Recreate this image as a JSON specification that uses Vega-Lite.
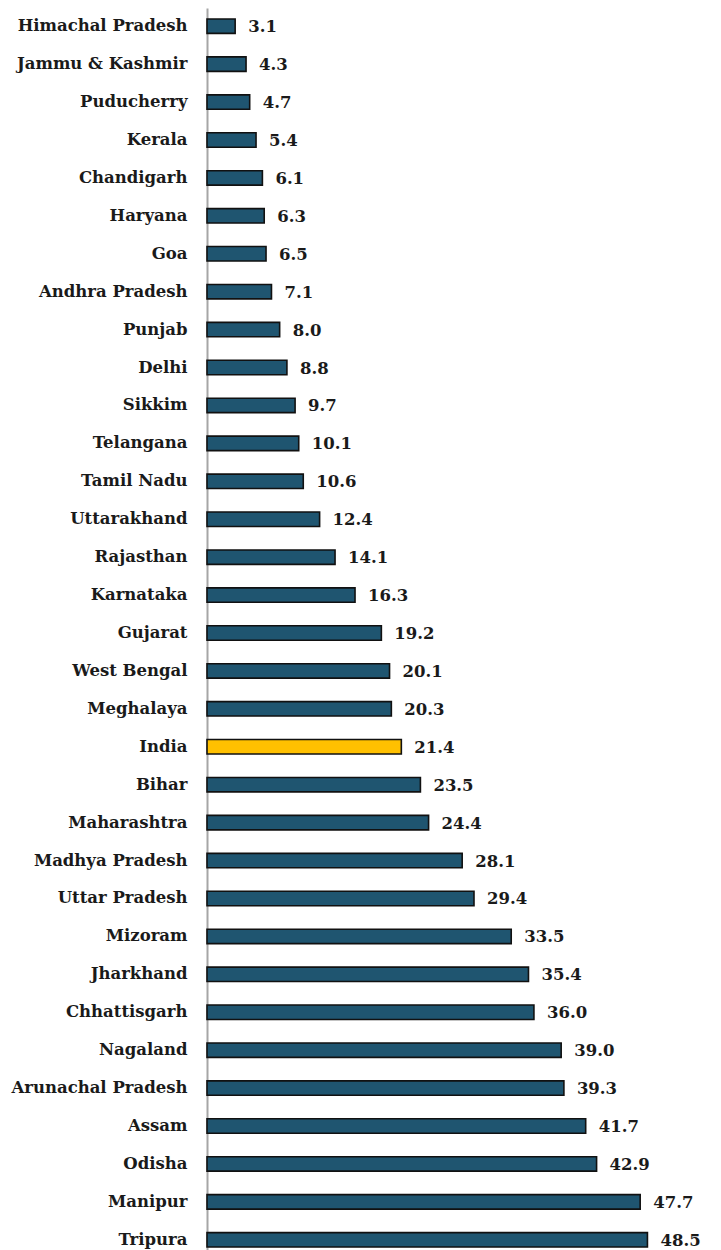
{
  "$schema": "https://vega.github.io/schema/vega-lite/v6.json",
  "autosize": "none",
  "padding": {"left": 207, "top": 8, "right": 0, "bottom": 0},
  "width": 514,
  "height": 1250,
  "background": "white",
  "config": {"view": {"stroke": null}},
  "data": {"values": [
    {"state": "Himachal Pradesh", "value": 3.1, "group": "state"},
    {"state": "Jammu & Kashmir", "value": 4.3, "group": "state"},
    {"state": "Puducherry", "value": 4.7, "group": "state"},
    {"state": "Kerala", "value": 5.4, "group": "state"},
    {"state": "Chandigarh", "value": 6.1, "group": "state"},
    {"state": "Haryana", "value": 6.3, "group": "state"},
    {"state": "Goa", "value": 6.5, "group": "state"},
    {"state": "Andhra Pradesh", "value": 7.1, "group": "state"},
    {"state": "Punjab", "value": 8.0, "group": "state"},
    {"state": "Delhi", "value": 8.8, "group": "state"},
    {"state": "Sikkim", "value": 9.7, "group": "state"},
    {"state": "Telangana", "value": 10.1, "group": "state"},
    {"state": "Tamil Nadu", "value": 10.6, "group": "state"},
    {"state": "Uttarakhand", "value": 12.4, "group": "state"},
    {"state": "Rajasthan", "value": 14.1, "group": "state"},
    {"state": "Karnataka", "value": 16.3, "group": "state"},
    {"state": "Gujarat", "value": 19.2, "group": "state"},
    {"state": "West Bengal", "value": 20.1, "group": "state"},
    {"state": "Meghalaya", "value": 20.3, "group": "state"},
    {"state": "India", "value": 21.4, "group": "india"},
    {"state": "Bihar", "value": 23.5, "group": "state"},
    {"state": "Maharashtra", "value": 24.4, "group": "state"},
    {"state": "Madhya Pradesh", "value": 28.1, "group": "state"},
    {"state": "Uttar Pradesh", "value": 29.4, "group": "state"},
    {"state": "Mizoram", "value": 33.5, "group": "state"},
    {"state": "Jharkhand", "value": 35.4, "group": "state"},
    {"state": "Chhattisgarh", "value": 36.0, "group": "state"},
    {"state": "Nagaland", "value": 39.0, "group": "state"},
    {"state": "Arunachal Pradesh", "value": 39.3, "group": "state"},
    {"state": "Assam", "value": 41.7, "group": "state"},
    {"state": "Odisha", "value": 42.9, "group": "state"},
    {"state": "Manipur", "value": 47.7, "group": "state"},
    {"state": "Tripura", "value": 48.5, "group": "state"}
  ]},
  "encoding": {
    "y": {
      "field": "state", "type": "nominal", "sort": null,
      "scale": {"paddingInner": 0.62, "paddingOuter": 0.29},
      "axis": {
        "title": null, "ticks": false, "domainColor": "#a6a6a6", "domainWidth": 2,
        "labelFont": "DejaVu Serif", "labelFontWeight": "bold", "labelFontSize": 16.5,
        "labelColor": "#1a1a1a", "labelPadding": 20, "labelLimit": 300
      }
    },
    "x": {
      "field": "value", "type": "quantitative",
      "scale": {"domain": [0, 56.6]},
      "axis": null
    }
  },
  "layer": [
    {
      "mark": {"type": "bar", "stroke": "#111111", "strokeWidth": 1.6},
      "encoding": {
        "color": {
          "field": "group", "type": "nominal",
          "scale": {"domain": ["state", "india"], "range": ["#1f5570", "#ffc000"]},
          "legend": null
        }
      }
    },
    {
      "mark": {"type": "text", "align": "left", "baseline": "middle", "dx": 13, "dy": 1,
        "font": "DejaVu Serif", "fontWeight": "bold", "fontSize": 16.5, "color": "#1a1a1a"},
      "encoding": {"text": {"field": "value", "type": "quantitative", "format": ".1f"}}
    }
  ]
}
